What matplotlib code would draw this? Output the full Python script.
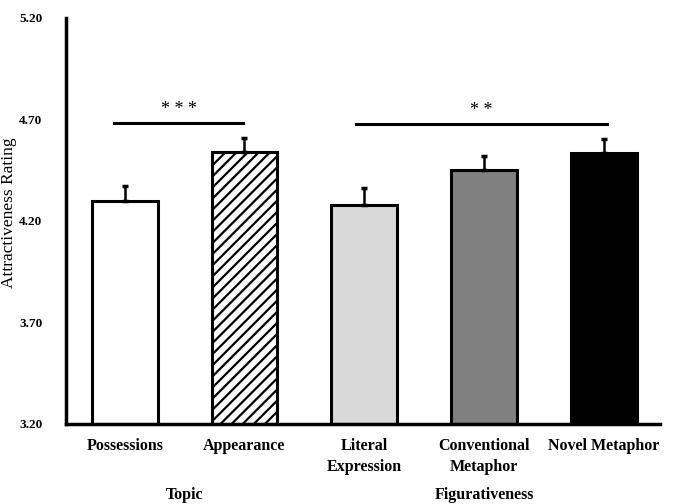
import matplotlib
matplotlib.use("Agg")
import matplotlib.pyplot as plt

categories = ["Possessions", "Appearance", "Literal\nExpression", "Conventional\nMetaphor", "Novel Metaphor"]
means = [4.30, 4.54, 4.28, 4.45, 4.535]
errors = [0.07, 0.07, 0.08, 0.07, 0.07]
colors = ["white", "white", "#d9d9d9", "#808080", "black"]
hatches = [None, "///", None, None, None]
groups = ["Topic", "Figurativeness"]
group_pos = [0.5, 3.0]
yticks = [3.20, 3.70, 4.20, 4.70, 5.20]
sig_pairs = [(-0.09, 0.99, 4.68, "* * *"), (1.93, 4.03, 4.675, "* *")]

plt.rcParams["font.family"] = ["Liberation Serif", "DejaVu Serif"]
plt.rcParams["hatch.linewidth"] = 1.6

fig = plt.figure(figsize=(6.75, 5.04), dpi=100)
ax = fig.add_axes([0.0978, 0.159, 0.880, 0.8056])

x = list(range(len(categories)))
for i in x:
    ax.bar(i, means[i] - 3.2, bottom=3.2, width=0.55, color=colors[i],
           edgecolor="black", linewidth=2.2, hatch=hatches[i], zorder=2)
ax.errorbar(x, means, yerr=[[0] * len(errors), errors], fmt="none",
            ecolor="black", elinewidth=1.8, capsize=2.5, capthick=2.5, zorder=3)

for x0, x1, y, lab in sig_pairs:
    ax.plot([x0, x1], [y, y], color="black", linewidth=2.2, clip_on=False)
    ax.text((x0 + x1) / 2, y + 0.025, lab, ha="center", va="bottom", fontsize=13)

ax.set_xlim(-0.49, 4.47)
ax.set_ylim(3.2, 5.2)
ax.set_yticks(yticks)
ax.set_yticklabels([f"{v:.2f}" for v in yticks], fontsize=9.5, fontweight="bold")
ax.set_xticks(x)
ax.set_xticklabels(categories, fontsize=11.5, fontweight="bold", linespacing=1.45, va="top")
ax.tick_params(axis="y", length=0, pad=17)
ax.tick_params(axis="x", length=0, pad=10)
for s in ["top", "right"]:
    ax.spines[s].set_visible(False)
for s in ["left", "bottom"]:
    ax.spines[s].set_linewidth(2.5)

ax.set_ylabel("Attractiveness Rating", fontsize=12.5)
ax.yaxis.set_label_coords(-0.083, 0.52)

for g, p in zip(groups, group_pos):
    ax.text(p, -0.176, g, transform=ax.get_xaxis_transform(), ha="center", va="center",
            fontsize=11.5, fontweight="bold")

fig.savefig("out.png", dpi=100)
